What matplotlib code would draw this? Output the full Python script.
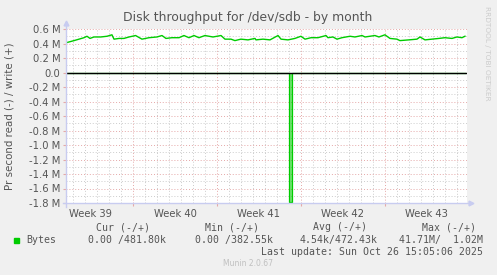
import matplotlib
matplotlib.use("Agg")
import matplotlib.pyplot as plt
import numpy as np

# time axis in days from the left edge of the graph
write_day = [0.0, 0.67, 1.5, 1.75, 2.0, 2.33, 2.9, 3.42, 3.83, 4.0, 4.42, 4.83,
             5.25, 5.8, 6.33, 6.92, 7.58, 8.0, 8.33, 8.83, 9.42, 9.83, 10.25,
             10.67, 11.08, 11.58, 12.25, 12.92, 13.25, 13.75, 14.08, 14.58,
             15.17, 15.75, 15.83, 16.42, 17.0, 17.67, 17.92, 18.5, 19.08, 19.58,
             19.92, 20.42, 21.0, 21.67, 21.83, 22.25, 22.58, 23.0, 23.67, 24.08,
             24.67, 24.92, 25.75, 26.08, 26.58, 27.0, 27.58, 27.83, 28.58, 29.25,
             29.5, 29.92, 30.5, 31.08, 31.58, 32.17, 32.58, 33.0, 33.25]
write_mb = [0.41, 0.44, 0.48, 0.50, 0.47, 0.49, 0.49, 0.50, 0.52, 0.46, 0.47, 0.47,
            0.49, 0.51, 0.46, 0.48, 0.49, 0.51, 0.47, 0.48, 0.48, 0.51, 0.48,
            0.51, 0.48, 0.51, 0.49, 0.51, 0.46, 0.46, 0.44, 0.46,
            0.45, 0.47, 0.45, 0.46, 0.45, 0.51, 0.46, 0.45, 0.47, 0.50,
            0.46, 0.48, 0.48, 0.51, 0.48, 0.49, 0.46, 0.48, 0.50, 0.49,
            0.51, 0.49, 0.51, 0.49, 0.52, 0.47, 0.46, 0.44, 0.45, 0.46,
            0.49, 0.45, 0.46, 0.47, 0.48, 0.47, 0.49, 0.48, 0.50]

read_day = [0.0, 18.58, 18.58, 18.8, 18.8, 33.25]
read_mb = [0.0, 0.0, 1.78, 1.78, 0.0, 0.0]

week_labels = ["Week 39", "Week 40", "Week 41", "Week 42", "Week 43"]
first_week_start = 5.58  # first Monday boundary, in days
x_end = 33.42

legend_cols = ["Cur (-/+)", "Min (-/+)", "Avg (-/+)", "Max (-/+)"]
legend_vals = ["0.00 /481.80k", "0.00 /382.55k", "4.54k/472.43k", "41.71M/  1.02M"]

BG = "#f0f0f0"
GREEN = "#00cc00"
TXT = "#555555"
MAJOR = "#e5a8a8"
MINOR = "#cccccc"
AXIS = "#c8ccf0"

W, H = 497, 275
fig = plt.figure(figsize=(W / 100, H / 100), dpi=100, facecolor=BG)
ax = fig.add_axes([66 / W, (H - 203) / H, (467 - 66) / W, (203 - 29) / H])
ax.set_facecolor("white")
for s in ax.spines.values():
    s.set_visible(False)

ax.set_xlim(0, x_end)
ax.set_ylim(-1.8, 0.6)

# grid
ax.set_yticks(np.arange(-1.8, 0.61, 0.2))
ax.set_yticks(np.arange(-1.7, 0.6, 0.2), minor=True)
majors_x = np.arange(first_week_start, x_end, 7)
minors_x = np.arange(first_week_start % 1, x_end, 1)
ax.set_xticks(majors_x)
ax.set_xticks(minors_x, minor=True)
ax.grid(which="minor", color=MINOR, linestyle=(0, (1, 2)), linewidth=0.7)
ax.grid(which="major", color=MAJOR, linestyle=(0, (1, 2)), linewidth=0.7)
ax.set_axisbelow(True)

def ylab(v):
    if abs(v) < 1e-9:
        return "0.0"
    return f"{v:.1f} M"

ax.set_yticklabels([ylab(v) for v in np.arange(-1.8, 0.61, 0.2)])
ax.set_xticklabels([])
ax.tick_params(which="both", length=2, color=MAJOR, labelsize=7.2, labelcolor=TXT, pad=2)
ax.tick_params(which="minor", length=0)
ax.tick_params(axis="x", which="major", length=2)

# week labels centred in each week
for i, lab in enumerate(week_labels):
    ax.text(first_week_start - 3.5 + 7 * i, -1.88, lab,
            ha="center", va="top", fontsize=7.2, color=TXT)

# data, then the zero rule on top
ax.plot(write_day, write_mb, color=GREEN, lw=1.0, zorder=3)
ax.fill_between(read_day, [-v for v in read_mb], 0, color=GREEN, alpha=0.55, lw=0, zorder=3)
ax.plot(read_day, [-v for v in read_mb], color=GREEN, lw=0.9, zorder=3)
ax.axhline(0, color="black", lw=1.0, zorder=4)

# axes with arrows
ax.plot([0, 0], [-1.85, 0.68], color=AXIS, lw=1, clip_on=False, zorder=5)
ax.plot([-0.25, x_end + 0.35], [-1.8, -1.8], color=AXIS, lw=1, clip_on=False, zorder=5)
ax.plot([0], [0.68], marker="^", ms=3.5, color=AXIS, clip_on=False, zorder=5)
ax.plot([x_end + 0.35], [-1.8], marker=">", ms=3.5, color=AXIS, clip_on=False, zorder=5)

fig.text(248 / W, 1 - 18 / H, "Disk throughput for /dev/sdb - by month",
         ha="center", va="center", fontsize=8.9, color=TXT)
fig.text(10 / W, 1 - 116 / H, "Pr second read (-) / write (+)", rotation=90,
         ha="center", va="center", fontsize=7.4, color=TXT)
fig.text(487 / W, 1 - 6 / H, "RRDTOOL / TOBI OETIKER", rotation=270,
         ha="center", va="top", fontsize=5.3, color="#cccccc")

mono = "DejaVu Sans Mono"
col_right = [150, 259, 367, 476]
for x, h in zip(col_right, legend_cols):
    fig.text(x / W, 1 - 227 / H, h, ha="right", va="center", family=mono, fontsize=7.1, color=TXT)
val_right = [166, 273, 378, 483]
for x, v in zip(val_right, legend_vals):
    fig.text(x / W, 1 - 240 / H, v, ha="right", va="center", family=mono, fontsize=7.1, color=TXT)
fig.patches.append(plt.Rectangle((14 / W, 1 - 243 / H), 5 / W, 5 / H, color=GREEN,
                                 transform=fig.transFigure))
fig.text(26 / W, 1 - 240 / H, "Bytes", ha="left", va="center", family=mono, fontsize=7.1, color=TXT)
fig.text(483 / W, 1 - 252 / H, "Last update: Sun Oct 26 15:05:06 2025", ha="right",
         va="center", family=mono, fontsize=7.1, color=TXT)
fig.text(248 / W, 1 - 263 / H, "Munin 2.0.67", ha="center", va="center",
         fontsize=5.5, color="#c0c0c0")

fig.savefig("out.png", dpi=100, facecolor=BG)
